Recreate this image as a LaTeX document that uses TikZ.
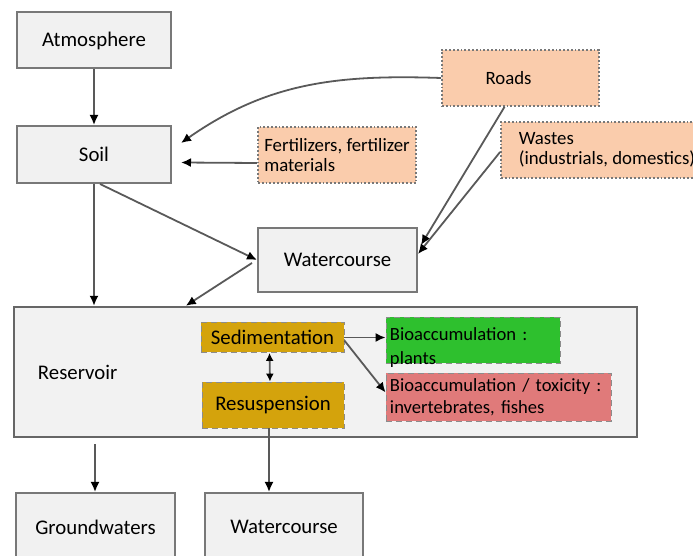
\documentclass[tikz,border=0pt]{standalone}
\usepackage{fontspec}
\setmainfont{Carlito}
\usetikzlibrary{positioning, arrows.meta, calc}
\definecolor{boxgray}{RGB}{241,241,241}
\definecolor{linegray}{RGB}{120,120,120}
\definecolor{source}{RGB}{250,204,172}
\definecolor{sediment}{RGB}{212,163,12}
\definecolor{plantgreen}{RGB}{46,192,46}
\definecolor{fishred}{RGB}{224,122,122}

\begin{document}
\begin{tikzpicture}[
    x=0.5pt, y=-0.5pt,
    compartment/.style args={#1x#2}{
        rectangle, draw=linegray, line width=1pt, fill=boxgray,
        minimum width=#1*0.5pt, minimum height=#2*0.5pt, inner sep=0pt,
        font=\fontsize{10.4}{12.5}\selectfont
    },
    input/.style args={#1x#2}{
        rectangle, draw=linegray, line width=0.9pt, densely dotted, fill=source,
        minimum width=#1*0.5pt, minimum height=#2*0.5pt, inner sep=0pt,
        font=\fontsize{9.4}{10}\selectfont, align=left
    },
    process/.style args={#1x#2}{
        rectangle, draw=black!45, line width=0.4pt, densely dashed, fill=sediment,
        minimum width=#1*0.5pt, minimum height=#2*0.5pt, inner sep=0pt,
        font=\fontsize{10.4}{12.5}\selectfont
    },
    effect/.style={
        rectangle, draw=black!45, line width=0.4pt, densely dashed, fill=#1,
        inner xsep=2pt, inner ysep=0pt, align=left,
        font=\fontsize{9.3}{11}\selectfont
    },
    flow/.style={-{Latex[length=5pt, width=4.5pt, color=black]}, line width=0.9pt, draw=black!65},
    exchange/.style={{Latex[length=4pt, width=4pt, color=black]}-{Latex[length=4pt, width=4pt, color=black]}, line width=0.9pt, draw=black!65}
]
\clip (0,0) rectangle (693,556);

% === Sources ===
\node[compartment=154x56] (atm) at (94,40.5) {Atmosphere};
\node[compartment=154x57] (soil) at (94,154.5) {Soil};
\node[input=158x56] (fert) at (337,155) {Fertilizers, fertilizer\\materials};
\node[input=157x56] (roads) at (520.5,78) {Roads\hspace{12pt}};
\node[input=212x56] (wastes) at (607,150) {Wastes\\(industrials, domestics)};
\node[compartment=159x64] (water) at (337.5,260) {Watercourse};

% === Reservoir ===
\node[compartment=623x130, line width=1.2pt, draw=black!60, fill=black!5,
      text width=287.5pt, inner xsep=12pt, align=left] (res) at (325.5,372) {Reservoir};
\node[process=143x30] (sed) at (272.5,337.5) {Sedimentation};
\node[process=142x46] (resusp) at (273,405) {Resuspension};
\node[effect=plantgreen, minimum width=87pt, minimum height=23pt, text width=83pt,
      text height=12pt, text depth=11pt]
     (plants) at (473,340) {Bioaccumulation :\\[1pt]plants};
\node[effect=fishred, minimum width=112.5pt, minimum height=24pt, text width=108.5pt]
     (fishes) at (498.5,397.5) {Bioaccumulation / toxicity :\\invertebrates, fishes};

% === Outlets ===
\node[compartment=159x68] (ground) at (95.5,527) {Groundwaters};
\node[compartment=158x68] (water2) at (284,527) {Watercourse};

% === Transfers ===
\draw[flow] (atm) -- (soil);
\draw[flow] (roads.west) to[out=178, in=35] ($(soil.east)+(9,-11.5)$);
\draw[flow] ($(fert.west)+(0,8)$) -- ($(soil.east)+(9,8)$);
\draw[flow] ($(soil.south)+(6,0)$) -- (water.west);
\draw[flow] (soil.south) -- (soil.south |- res.north);
\draw[flow] ($(water.west)+(-5,3)$) -- ($(res.north west)+(173,0)$);
\draw[flow] ($(roads.south)+(-16,0)$) -- ($(water.east)+(3,-15)$);
\draw[flow] ($(wastes.west)+(0,2)$) -- ($(water.east)+(0,-6)$);

% inside the reservoir
\draw[flow] (sed.east) -- (sed.east -| plants.west);
\draw[flow] ($(sed.east)+(0,3)$) -- ($(fishes.west)+(0,-5)$);
\draw[exchange] ($(sed.south)+(-3,0)$) -- ($(resusp.north)+(-3,0)$);

% towards the outlets
\draw[flow] ($(resusp.south)+(-4,0)$) -- ($(resusp.south |- water2.north)+(-4,0)$);
\draw[flow] ($(ground.north |- res.south)+(-0.5,6)$) -- ($(ground.north)+(-0.5,0)$);

\end{tikzpicture}
\end{document}
